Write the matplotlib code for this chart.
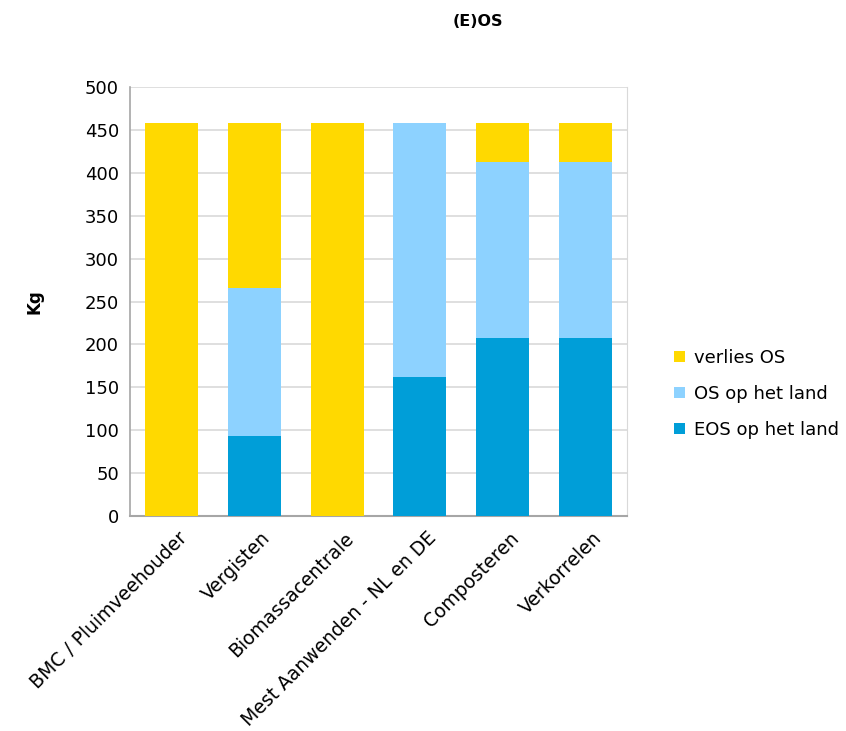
import matplotlib
matplotlib.use("Agg")
import matplotlib.pyplot as plt
import numpy as np

categories = ["BMC / Pluimveehouder", "Vergisten", "Biomassacentrale",
              "Mest Aanwenden - NL en DE", "Composteren", "Verkorrelen"]
eos_land = [0, 93, 0, 162, 207, 207]
os_land = [0, 173, 0, 296, 206, 206]
verlies_os = [458, 192, 458, 0, 45, 45]

series_names = ["EOS op het land", "OS op het land", "verlies OS"]
colors = ["#009ED8", "#8DD2FF", "#FFD900"]

plt.rcParams["font.family"] = ["DejaVu Sans"]

fig = plt.figure(figsize=(8.46, 7.31), dpi=100)
ax = fig.add_axes([0.1537, 0.2941, 0.5873, 0.5869])

x = np.arange(len(categories))
bottom = np.zeros(len(categories))
handles = []
for vals, name, c in zip([eos_land, os_land, verlies_os], series_names, colors):
    b = ax.bar(x, vals, width=0.64, bottom=bottom, color=c, label=name, zorder=3)
    handles.append(b)
    bottom += np.array(vals)

ax.set_xlim(-0.5, len(categories) - 0.5)
ax.set_ylim(0, 500)
ax.set_yticks(np.arange(0, 501, 50))
ax.yaxis.grid(True, color="#D9D9D9", linewidth=1.2, zorder=0)
ax.set_axisbelow(True)

ax.spines["top"].set_visible(False)
ax.spines["right"].set_color("#D9D9D9")
ax.spines["left"].set_color("#A6A6A6")
ax.spines["bottom"].set_color("#A6A6A6")
ax.spines["left"].set_linewidth(1.2)
ax.spines["bottom"].set_linewidth(1.5)

ax.tick_params(axis="y", length=0, labelsize=13, pad=8)
ax.tick_params(axis="x", length=0, labelsize=13.5, pad=9)
ax.set_xticks(x + 0.08)
ax.set_xticklabels(categories, rotation=45, ha="right", rotation_mode="anchor")

ax.set_ylabel("Kg", fontsize=12, fontweight="bold", labelpad=30)
fig.text(0.565, 0.97, "(E)OS", ha="center", va="center", fontsize=11.5, fontweight="bold")

leg = fig.legend(handles[::-1], series_names[::-1], loc="center left",
                 bbox_to_anchor=(0.778, 0.461), frameon=False, fontsize=13,
                 handlelength=0.6, handleheight=0.6, handletextpad=0.5,
                 labelspacing=1.0)

fig.savefig("out.png", dpi=100)
